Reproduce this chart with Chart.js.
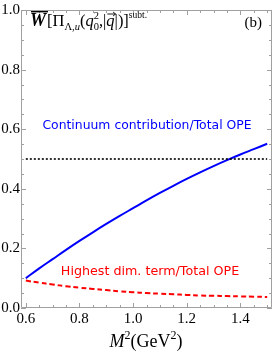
<!DOCTYPE html>
<html><head><meta charset="utf-8">
<script src="https://cdn.jsdelivr.net/npm/chart.js@4"></script>
<style>html,body{margin:0;padding:0;background:#fff}canvas{display:block}</style>
</head><body>
<canvas id="c" width="273" height="354"></canvas>
<script>
// ---- data ----
const massSq = [0.60,0.65,0.70,0.75,0.80,0.85,0.90,0.95,1.00,1.05,1.10,1.15,1.20,1.25,1.30,1.35,1.40,1.45,1.50];
const continuumRatio = [0.100,0.133,0.164,0.195,0.225,0.254,0.282,0.309,0.335,0.361,0.386,0.410,0.433,0.455,0.476,0.496,0.515,0.533,0.551];
const highestDimRatio = [0.092,0.085,0.079,0.073,0.068,0.064,0.060,0.056,0.053,0.050,0.048,0.046,0.044,0.042,0.041,0.040,0.039,0.038,0.037];
const thresholdX = [0.60,1.50];
const thresholdY = [0.5,0.5];
const xTickValues = [0.6,0.8,1.0,1.2,1.4];
const yTickValues = [0.0,0.2,0.4,0.6,0.8,1.0];
const continuumLabel = 'Continuum contribution/Total OPE';
const highestDimLabel = 'Highest dim. term/Total OPE';
const panelLabel = '(b)';

const pts = (xs, ys) => xs.map((x,i)=>({x, y: ys[i]}));
const SERIF = '"Liberation Serif", "Times New Roman", serif';
const SANS = '"DejaVu Sans", Verdana, sans-serif';

const framePlugin = {
  id: 'frame',
  afterDraw(chart){
    const {ctx, chartArea:a, scales:{x, y}} = chart;
    ctx.save();
    ctx.strokeStyle = '#a0a0a0';
    ctx.lineWidth = 1;
    ctx.beginPath();
    ctx.rect(a.left+0.5, a.top+0.5, a.right-a.left-1, a.bottom-a.top-1);
    ctx.stroke();
    ctx.beginPath();
    for (let k=0;k<=18;k++){
      const v = 0.6 + k*0.05;
      const px = Math.round(x.getPixelForValue(v))+0.5;
      const len = (k%4===0) ? 5 : 3;
      ctx.moveTo(px, a.bottom); ctx.lineTo(px, a.bottom-len);
      ctx.moveTo(px, a.top); ctx.lineTo(px, a.top+len);
    }
    for (let k=0;k<=20;k++){
      const v = k*0.05;
      const py = Math.round(y.getPixelForValue(v))+0.5;
      const len = (k%4===0) ? 5 : 3;
      ctx.moveTo(a.left, py); ctx.lineTo(a.left+len, py);
      ctx.moveTo(a.right, py); ctx.lineTo(a.right-len, py);
    }
    ctx.stroke();

    // inner labels
    ctx.textAlign = 'center';
    ctx.textBaseline = 'middle';
    ctx.font = '12.4px ' + SANS;
    ctx.fillStyle = '#0000ff';
    ctx.fillText(continuumLabel, 147, 126);
    ctx.font = '12.7px ' + SANS;
    ctx.fillStyle = '#ff0000';
    ctx.fillText(highestDimLabel, 150, 272);

    // panel label
    ctx.fillStyle = '#000';
    ctx.textAlign = 'right';
    ctx.textBaseline = 'alphabetic';
    ctx.font = '15px ' + SERIF;
    ctx.fillText(panelLabel, 262, 27);

    // title expression
    ctx.textAlign = 'left';
    let cx = 30; const base = 26;
    const put = (s, font, dy=0) => { ctx.font = font; ctx.fillText(s, cx, base+dy); const w = ctx.measureText(s).width; cx += w; return w; };
    const wx0 = cx;
    const ww = put('W', 'bold italic 18px ' + SERIF);
    ctx.fillRect(wx0+1, base-15, ww+1, 1.4);
    cx += 1;
    put('[\u03A0', '16.5px ' + SERIF);
    put('\u039B,', '10.5px ' + SERIF, 4);
    put('u', 'italic 10.5px ' + SERIF, 4);
    put('(', '16.5px ' + SERIF);
    put('q', 'italic 16.5px ' + SERIF);
    const sx = cx;
    ctx.font = '10.5px ' + SERIF;
    ctx.fillText('2', sx, base-7);
    ctx.fillText('0', sx, base+4);
    cx += ctx.measureText('2').width;
    put(',|', '16.5px ' + SERIF);
    const qx = cx;
    const qw = put('q', 'italic 16.5px ' + SERIF);
    ctx.strokeStyle = '#000'; ctx.lineWidth = 0.9;
    ctx.beginPath();
    ctx.moveTo(qx+1, base-12); ctx.lineTo(qx+qw+1, base-12);
    ctx.moveTo(qx+qw-1.5, base-14); ctx.lineTo(qx+qw+1, base-12); ctx.lineTo(qx+qw-1.5, base-10);
    ctx.stroke();
    put('|)]', '16.5px ' + SERIF);
    put('subt.', '9.5px ' + SERIF, -8);

    // x-axis title
    ctx.textAlign = 'left';
    const parts = [['M','italic 18px '+SERIF,0],['2','12px '+SERIF,-8],['(GeV','18px '+SERIF,0],['2','12px '+SERIF,-8],[')','18px '+SERIF,0]];
    let tw = 0;
    for (const p of parts){ ctx.font = p[1]; tw += ctx.measureText(p[0]).width; }
    cx = 146 - tw/2;
    for (const p of parts){ ctx.font = p[1]; ctx.fillText(p[0], cx, 347+p[2]); cx += ctx.measureText(p[0]).width; }
    ctx.restore();
  }
};

new Chart(document.getElementById('c'), {
  type: 'scatter',
  data: {
    datasets: [
      { data: pts(thresholdX, thresholdY), showLine: true, borderColor: '#000', borderWidth: 1.6, borderDash: [2,2], pointRadius: 0, fill: false },
      { data: pts(massSq, continuumRatio), showLine: true, borderColor: '#0000ff', borderWidth: 2, pointRadius: 0, tension: 0.4, fill: false },
      { data: pts(massSq, highestDimRatio), showLine: true, borderColor: '#ff0000', borderWidth: 2, borderDash: [5,3], pointRadius: 0, tension: 0.4, fill: false }
    ]
  },
  options: {
    responsive: false,
    animation: false,
    events: [],
    layout: { padding: { top: 6, right: 1, left: 0, bottom: 0 } },
    plugins: { legend: { display: false }, tooltip: { enabled: false } },
    scales: {
      x: {
        type: 'linear', min: 0.582, max: 1.518,
        grid: { display: false, drawTicks: false, tickLength: 0 }, border: { display: false },
        afterBuildTicks(s){ s.ticks = xTickValues.map(v=>({value:v})); },
        afterFit(s){ s.height = 46; },
        ticks: { color: '#000', font: { family: SERIF, size: 15 }, padding: 2, maxRotation: 0, autoSkip: false,
          callback: v => Number(v).toFixed(1) }
      },
      y: {
        type: 'linear', min: 0, max: 1,
        grid: { display: false, drawTicks: false, tickLength: 0 }, border: { display: false },
        afterBuildTicks(s){ s.ticks = yTickValues.map(v=>({value:v})); },
        afterFit(s){ s.width = 21; },
        ticks: { color: '#000', font: { family: SERIF, size: 15 }, padding: 1, autoSkip: false,
          callback: v => Number(v).toFixed(1) }
      }
    }
  },
  plugins: [framePlugin]
});
</script>
</body></html>
